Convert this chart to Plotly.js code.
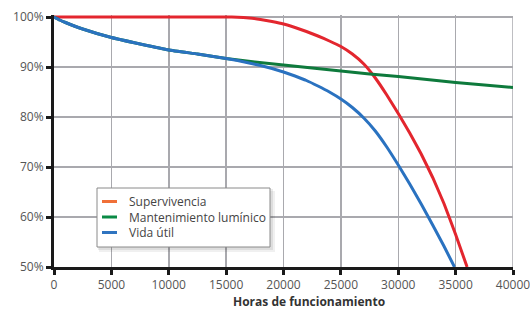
<!DOCTYPE html>
<html><head><meta charset="utf-8">
<script src="https://cdn.plot.ly/plotly-3.0.1.min.js"></script>
<style>html,body{margin:0;padding:0;background:#fff}#c{width:530px;height:309px}</style>
</head><body><div id="c"></div>
<script>
// Supervivencia (survival)
const survX = [0,15000,16000,17000,18000,19000,20000,21000,22000,23000,24000,25000,26000,27000,28000,29000,30000,31000,32000,33000,34000,35000,36000];
const survY = [100,100,99.95,99.8,99.5,99.1,98.6,97.9,97.1,96.2,95.2,94.1,92.6,90.6,87.8,84.4,80.7,76.8,72.6,67.9,62.6,56.5,50];
// Mantenimiento lumínico (lumen maintenance)
const lumenX = [0,500,1000,2500,5000,7500,10000,12500,15000,17500,20000,22500,25000,27500,30000,32500,35000,37500,40000];
const lumenY = [100,99.4,98.9,97.6,95.9,94.6,93.4,92.6,91.7,91.0,90.4,89.8,89.2,88.6,88.1,87.5,86.9,86.4,85.9];
// Vida útil (useful life)
const lifeX = [0,500,1000,2500,5000,7500,10000,12500,15000,16000,17000,18000,19000,20000,21000,22000,23000,24000,25000,26000,27000,28000,29000,30000,31000,32000,33000,34000,34900];
const lifeY = [100,99.4,98.9,97.6,95.9,94.6,93.4,92.6,91.7,91.3,90.8,90.3,89.7,89.0,88.2,87.3,86.2,85.0,83.6,81.9,79.8,77.2,74.0,70.4,66.6,62.6,58.4,54.1,50];

const names = ['Supervivencia','Mantenimiento lumínico','Vida útil'];
const lineColors = ['#e3262e','#0e7a3c','#2a72c0'];
const legendColors = ['#f07038','#0a8a45','#2f74c0'];
const yTicks = [50,60,70,80,90,100];
const xTicks = [0,5000,10000,15000,20000,25000,30000,35000,40000];
const xTitle = 'Horas de funcionamiento';

const series = [[survX,survY],[lumenX,lumenY],[lifeX,lifeY]];
const data = series.map((s,i)=>({x:s[0],y:s[1],mode:'lines',name:names[i],
  line:{color:lineColors[i],width:3,shape:'spline',smoothing:0.3},showlegend:false,hoverinfo:'skip'}));

// helpers: pixel -> paper (plot area x 54..513, y 15..267)
const PX = p => (p-54)/459;
const PY = p => (267-p)/252;

const shapes = [
  {type:'line',xref:'x',yref:'y',x0:0,x1:40000,y0:100,y1:100,line:{color:'#a9a9ae',width:1.5},layer:'below'},
  {type:'line',xref:'x',yref:'y',x0:40000,x1:40000,y0:50,y1:100,line:{color:'#a9a9ae',width:1.5},layer:'below'},
  // legend shadow + box
  {type:'rect',xref:'paper',yref:'paper',x0:PX(99),x1:PX(275),y0:PY(252),y1:PY(191),fillcolor:'rgba(0,0,0,0.06)',line:{width:0},layer:'above'},
  {type:'rect',xref:'paper',yref:'paper',x0:PX(98),x1:PX(273),y0:PY(250),y1:PY(189),fillcolor:'rgba(0,0,0,0.08)',line:{width:0},layer:'above'},
  {type:'rect',xref:'paper',yref:'paper',x0:PX(97),x1:PX(270),y0:PY(247),y1:PY(188),fillcolor:'#fff',line:{color:'#8a8a8a',width:1},layer:'above'}
];
const rowsY = [201.5,217,232.5];
names.forEach((n,i)=>{
  shapes.push({type:'line',xref:'paper',yref:'paper',x0:PX(102),x1:PX(117),y0:PY(rowsY[i]),y1:PY(rowsY[i]),
    line:{color:legendColors[i],width:3},layer:'above'});
});
const annotations = [
  {xref:'paper',yref:'paper',x:PX(127),y:PY(rowsY[1]),xanchor:'left',yanchor:'middle',align:'left',
    text:names.join('<br>'),showarrow:false,font:{family:'Open Sans',size:12,color:'#444'}},
  {xref:'paper',yref:'paper',x:PX(309),y:PY(301),xanchor:'center',yanchor:'middle',
    text:'<b>'+xTitle+'</b>',showarrow:false,font:{family:'Open Sans',size:12,color:'#333'}}
];

const layout = {
  width:530,height:309,
  margin:{l:54,r:17,t:15,b:42},
  paper_bgcolor:'#fff',plot_bgcolor:'#fff',
  font:{family:'Open Sans',size:12,color:'#555'},
  showlegend:false,
  xaxis:{range:[0,40000],tickvals:xTicks,ticktext:xTicks.map(String),showgrid:true,gridcolor:'#a9a9ae',gridwidth:1.5,
    showline:true,linecolor:'#1a1a1a',linewidth:3,ticks:'outside',ticklen:5,tickwidth:3,tickcolor:'#1a1a1a',zeroline:false,
    ticklabeloverflow:'allow',fixedrange:true},
  yaxis:{range:[50,100.4],tickvals:yTicks,ticktext:yTicks.map(v=>v+'%'),showgrid:true,gridcolor:'#a9a9ae',gridwidth:1.5,
    showline:true,linecolor:'#1a1a1a',linewidth:3,ticks:'outside',ticklen:5,tickwidth:3,tickcolor:'#1a1a1a',zeroline:false,fixedrange:true},
  shapes:shapes,
  annotations:annotations
};
Plotly.newPlot('c',data,layout,{displayModeBar:false,staticPlot:true});
</script></body></html>
